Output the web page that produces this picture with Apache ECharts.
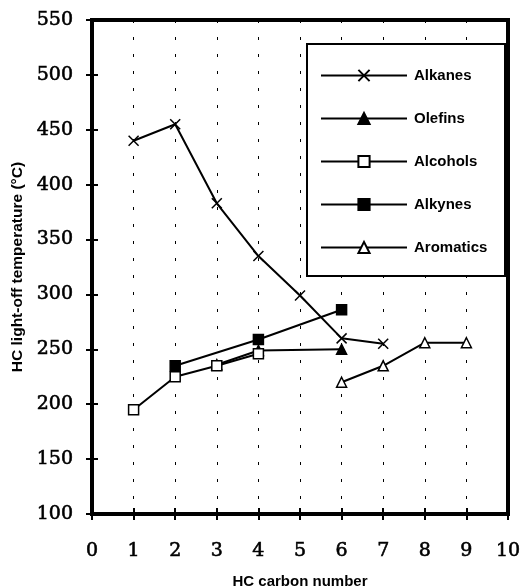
<!DOCTYPE html>
<html>
<head>
<meta charset="utf-8">
<script src="https://cdn.jsdelivr.net/npm/echarts@6/dist/echarts.min.js"></script>
<style>
  html, body { margin: 0; padding: 0; background: #fff; }
  #chart { width: 521px; height: 587px; }
</style>
</head>
<body>
<div id="chart"></div>
<script>
// Light-off temperature of hydrocarbons versus carbon number
const alkanesC = [1, 2, 3, 4, 5, 6, 7];
const alkanesT = [440, 455, 383, 335, 299, 260, 255];

const olefinsC = [3, 4, 6];
const olefinsT = [236, 249, 250];

const alcoholsC = [1, 2, 3, 4];
const alcoholsT = [195, 225, 235, 246];

const alkynesC = [2, 4, 6];
const alkynesT = [235, 259, 286];

const aromaticsC = [6, 7, 8, 9];
const aromaticsT = [220, 235, 256, 256];

const xMin = 0, xMax = 10, xStep = 1;
const yMin = 100, yMax = 550, yStep = 50;

const pairs = (xs, ys) => xs.map((x, i) => [x, ys[i]]);

const crossPath = 'path://M0,0L10,10M10,0L0,10';
const serifFont = 'DejaVu Serif';
const sansFont = 'Liberation Sans';

const tickLabelStyle = {
  fontFamily: serifFont, fontSize: 19, color: '#000',
  textBorderColor: '#000', textBorderWidth: 0.6
};

function lineSeries(name, xs, ys, symbol, fill) {
  return {
    name: name,
    type: 'line',
    data: pairs(xs, ys),
    symbol: symbol,
    symbolSize: 10,
    z: 5,
    lineStyle: { color: '#000', width: 2 },
    itemStyle: { color: fill, borderColor: '#000', borderWidth: 1.5 },
    emphasis: { disabled: true },
    animation: false
  };
}

const baseX = { type: 'value', min: xMin, max: xMax, interval: xStep };
const baseY = { type: 'value', min: yMin, max: yMax, interval: yStep };

const chart = echarts.init(document.getElementById('chart'), null, { renderer: 'canvas' });
chart.setOption({
  backgroundColor: '#fff',
  animation: false,
  grid: {
    left: 92, right: 13, top: 20, bottom: 73,
    containLabel: false,
    outerBoundsMode: 'none',
    show: true, borderColor: '#000', borderWidth: 4, backgroundColor: 'transparent'
  },
  xAxis: [
    Object.assign({}, baseX, {
      position: 'bottom',
      name: 'HC carbon number',
      nameLocation: 'middle',
      nameGap: 60,
      nameTextStyle: { fontFamily: sansFont, fontSize: 15, fontWeight: 'bold', color: '#000' },
      axisLine: { show: true, lineStyle: { color: '#000', width: 4 } },
      axisTick: { show: true, inside: false, length: 6, lineStyle: { color: '#000', width: 2 } },
      axisLabel: Object.assign({ margin: 28 }, tickLabelStyle),
      splitLine: { show: true, lineStyle: { color: '#000', width: 1, type: [3, 14] } }
    }),
    Object.assign({}, baseX, {
      position: 'bottom',
      axisLine: { show: false },
      axisTick: { show: true, inside: true, length: 6, lineStyle: { color: '#000', width: 2 } },
      axisLabel: { show: false },
      splitLine: { show: false }
    })
  ],
  yAxis: [
    Object.assign({}, baseY, {
      position: 'left',
      name: 'HC light-off temperature (°C)',
      nameLocation: 'middle',
      nameGap: 66,
      nameTextStyle: { fontFamily: sansFont, fontSize: 15.5, fontWeight: 'bold', color: '#000' },
      axisLine: { show: true, lineStyle: { color: '#000', width: 4 } },
      axisTick: { show: true, inside: false, length: 6, lineStyle: { color: '#000', width: 2 } },
      axisLabel: Object.assign({ margin: 19 }, tickLabelStyle),
      splitLine: { show: false }
    }),
    Object.assign({}, baseY, {
      position: 'left',
      axisLine: { show: false },
      axisTick: { show: true, inside: true, length: 6, lineStyle: { color: '#000', width: 2 } },
      axisLabel: { show: false },
      splitLine: { show: false }
    })
  ],
  legend: {
    orient: 'vertical',
    left: 320,
    top: 68,
    padding: 0,
    itemWidth: 86,
    itemHeight: 14,
    itemGap: 28,
    selectedMode: false,
    textStyle: { fontFamily: sansFont, fontSize: 15, fontWeight: 'bold', color: '#000', padding: [0, 0, 0, 2] },
    data: ['Alkanes', 'Olefins', 'Alcohols', 'Alkynes', 'Aromatics']
  },
  graphic: [{
    type: 'rect',
    left: 306, top: 43,
    shape: { width: 198, height: 232 },
    style: { fill: '#fff', stroke: '#000', lineWidth: 2 },
    z: 3
  }],
  series: [
    lineSeries('Alkanes', alkanesC, alkanesT, crossPath, 'transparent'),
    lineSeries('Olefins', olefinsC, olefinsT, 'triangle', '#000'),
    lineSeries('Alcohols', alcoholsC, alcoholsT, 'rect', '#fff'),
    lineSeries('Alkynes', alkynesC, alkynesT, 'rect', '#000'),
    lineSeries('Aromatics', aromaticsC, aromaticsT, 'triangle', '#fff')
  ]
});
</script>
</body>
</html>
